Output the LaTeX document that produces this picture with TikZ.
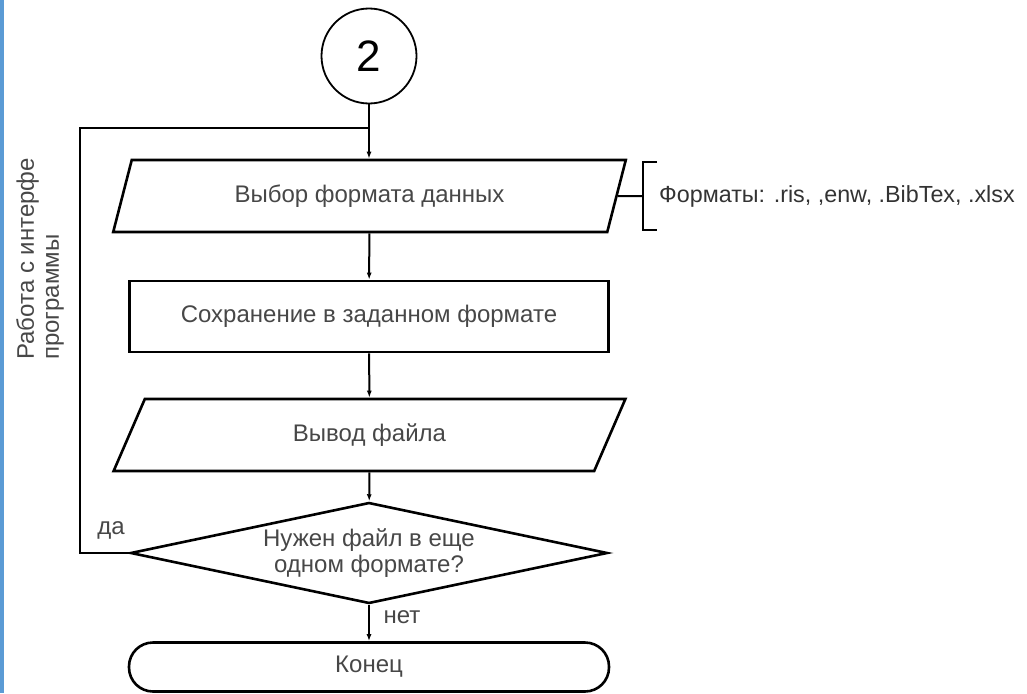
\documentclass[tikz,border=0pt]{standalone}
\usepackage{fontspec}
\setmainfont{Liberation Sans}
\usetikzlibrary{shapes.geometric,arrows.meta}
\definecolor{txtgray}{HTML}{474747}
\definecolor{sidebar}{HTML}{5B9BD5}
\begin{document}
\begin{tikzpicture}[x=1pt,y=-1pt,
    lbl/.style={text=txtgray,font=\fontsize{24}{26}\selectfont},
    io/.style={trapezium,trapezium left angle=65,trapezium right angle=115,
      trapezium stretches,draw,line width=2.6pt,minimum width=513pt,
      minimum height=72pt,inner sep=0pt,lbl},
    proc/.style={rectangle,draw,line width=2.6pt,minimum width=479pt,
      minimum height=71pt,inner sep=0pt,lbl},
    ask/.style={diamond,aspect=4.72,draw,line width=2.6pt,minimum width=477pt,
      minimum height=101pt,inner sep=0pt,align=center,lbl},
    term/.style={rectangle,rounded corners=24pt,draw,line width=2.6pt,
      minimum width=480pt,minimum height=49pt,inner sep=0pt,lbl},
    conn/.style={circle,draw,line width=1.8pt,minimum size=95pt,inner sep=0pt,
      font=\fontsize{44}{48}\selectfont}]
      \useasboundingbox (0,0) rectangle (1027,693);
      \fill[sidebar] (0,0) rectangle (4,693);
      \draw
        (369,56) node[conn] (start){2}
        (369.5,196) node[io] (fmt){Выбор формата данных}
        (369,316.5) node[proc] (save){Сохранение в заданном формате}
        (369.5,435) node[io] (out){Вывод файла}
        (369,553) node[ask] (more){Нужен файл в еще\\одном формате?}
        (369,667) node[term] (end){Конец}
        (659,196) node[lbl,anchor=west,inner sep=0pt,text=black!80,
          font=\fontsize{23.3}{26}\selectfont] (note){Форматы: .ris, ,enw, .BibTex, .xlsx}
        (111,530) node[lbl] (yes){да}
        (402,617) node[lbl] (no){нет}
        (16,360) node[lbl,rotate=90,anchor=north west,align=left,inner sep=0pt,
          font=\fontsize{24}{25}\selectfont] (side){Работа с интерфе\\программы};
      \coordinate (loop) at (80,128);
      \coordinate (join) at (start |- loop);
      \coordinate (brk) at ([xshift=-16pt]note.west);
      \begin{scope}[line width=2pt,-{Latex[length=7pt,width=5pt]}]
        \draw (start) to (start |- fmt.north);
        \draw (fmt) to (save);
        \draw (save) to (out);
        \draw (out) to (more);
        \draw (more) to (end);
      \end{scope}
      \begin{scope}[line width=2pt,-]
        \draw (more.west) -| (loop) -- (join);
        \draw (fmt.east) -- (brk);
        \draw ([xshift=14pt,yshift=34pt]brk) -- ([yshift=34pt]brk)
          -- ([yshift=-34pt]brk) -- ([xshift=14pt,yshift=-34pt]brk);
      \end{scope}
    \end{tikzpicture}
\end{document}
